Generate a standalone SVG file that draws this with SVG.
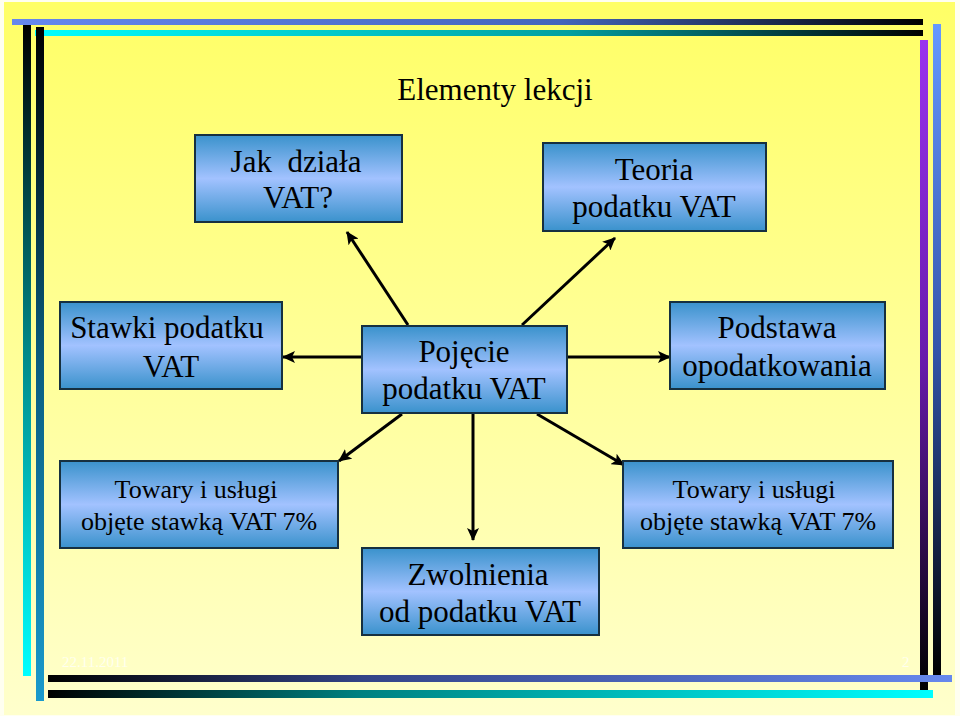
<svg xmlns="http://www.w3.org/2000/svg" width="960" height="716" viewBox="0 0 960 716">
<defs>
<linearGradient id="bg" x1="0" y1="0" x2="0" y2="1">
<stop offset="0" stop-color="#FFFF66"/>
<stop offset="1" stop-color="#FFFFCC"/>
</linearGradient>
<linearGradient id="box" x1="0" y1="0" x2="0" y2="1">
<stop offset="0" stop-color="#3A92CC"/>
<stop offset="0.5" stop-color="#A2C2FF"/>
<stop offset="1" stop-color="#3A92CC"/>
</linearGradient>
<linearGradient id="hTop1" x1="0" y1="0" x2="1" y2="0">
<stop offset="0" stop-color="#6688EE"/>
<stop offset="0.6" stop-color="#4466BB"/>
<stop offset="1" stop-color="#000000"/>
</linearGradient>
<linearGradient id="hTop2" x1="0" y1="0" x2="1" y2="0">
<stop offset="0" stop-color="#00FFFF"/>
<stop offset="0.6" stop-color="#00A0A0"/>
<stop offset="1" stop-color="#000000"/>
</linearGradient>
<linearGradient id="hBot1" x1="0" y1="0" x2="1" y2="0">
<stop offset="0" stop-color="#000000"/>
<stop offset="0.35" stop-color="#334488"/>
<stop offset="1" stop-color="#6688EE"/>
</linearGradient>
<linearGradient id="hBot2" x1="0" y1="0" x2="1" y2="0">
<stop offset="0" stop-color="#000000"/>
<stop offset="0.35" stop-color="#008080"/>
<stop offset="1" stop-color="#00FFFF"/>
</linearGradient>
<linearGradient id="vL1" x1="0" y1="0" x2="0" y2="1">
<stop offset="0" stop-color="#000000"/>
<stop offset="0.5" stop-color="#008888"/>
<stop offset="1" stop-color="#00FFFF"/>
</linearGradient>
<linearGradient id="vL2" x1="0" y1="0" x2="0" y2="1">
<stop offset="0" stop-color="#000000"/>
<stop offset="0.5" stop-color="#0A5E80"/>
<stop offset="1" stop-color="#1A9ACC"/>
</linearGradient>
<linearGradient id="vR1" x1="0" y1="0" x2="0" y2="1">
<stop offset="0" stop-color="#9933EE"/>
<stop offset="0.5" stop-color="#661AAA"/>
<stop offset="1" stop-color="#000000"/>
</linearGradient>
<linearGradient id="vR2" x1="0" y1="0" x2="0" y2="1">
<stop offset="0" stop-color="#6699FF"/>
<stop offset="0.5" stop-color="#3355AA"/>
<stop offset="1" stop-color="#000000"/>
</linearGradient>
<marker id="arr" markerUnits="userSpaceOnUse" markerWidth="14" markerHeight="12" refX="12" refY="6" orient="auto">
<path d="M0,0 L13,6 L0,12 L3,6 Z" fill="#000"/>
</marker>
</defs>
<style>
.node rect{fill:url(#box);stroke:#163040;stroke-width:2}
.node text{font-family:"Liberation Serif","Times New Roman",serif;fill:#000;text-anchor:middle}
.big{font-size:31px}
.small{font-size:26px}
#connectors line{stroke:#000;stroke-width:3;marker-end:url(#arr)}
</style>
<rect x="0" y="0" width="960" height="716" fill="#FFFFF0"/>
<rect x="4" y="2" width="951" height="713" fill="url(#bg)"/>
<g id="decor">
<rect x="12" y="19" width="911" height="6" fill="url(#hTop1)"/>
<rect x="35" y="30" width="888" height="6" fill="url(#hTop2)"/>
<rect x="23" y="25" width="8" height="651" fill="url(#vL1)"/>
<rect x="36" y="27" width="8" height="674" fill="url(#vL2)"/>
<rect x="920" y="40" width="8" height="650" fill="url(#vR1)"/>
<rect x="933" y="24" width="8" height="651" fill="url(#vR2)"/>
<rect x="48" y="675" width="904" height="7" fill="url(#hBot1)"/>
<rect x="48" y="690" width="885" height="8" fill="url(#hBot2)"/>
</g>
<text x="495" y="100" font-family="Liberation Serif, serif" font-size="31" text-anchor="middle" fill="#000">Elementy lekcji</text>
<g id="connectors">
<line x1="408" y1="325" x2="347" y2="232"/>
<line x1="522" y1="325" x2="615" y2="238"/>
<line x1="362" y1="357" x2="283" y2="357"/>
<line x1="567" y1="357" x2="670" y2="357"/>
<line x1="402" y1="414" x2="339" y2="461"/>
<line x1="473" y1="414" x2="473" y2="540"/>
<line x1="537" y1="414" x2="624" y2="465"/>
</g>
<g id="n-jak" class="node">
<rect x="195" y="135" width="207" height="87"/>
<text class="big" x="296" y="172">Jak&#160; działa</text>
<text class="big" x="298" y="208">VAT?</text>
</g>
<g id="n-teoria" class="node">
<rect x="543" y="143" width="223" height="88"/>
<text class="big" x="654" y="180">Teoria</text>
<text class="big" x="654" y="217">podatku VAT</text>
</g>
<g id="n-stawki" class="node">
<rect x="60" y="302" width="222" height="87"/>
<text class="big" x="167" y="338">Stawki podatku</text>
<text class="big" x="171" y="377">VAT</text>
</g>
<g id="n-pojecie" class="node">
<rect x="362" y="326" width="205" height="87"/>
<text class="big" x="464" y="362">Pojęcie</text>
<text class="big" x="464" y="399">podatku VAT</text>
</g>
<g id="n-podstawa" class="node">
<rect x="670" y="302" width="215" height="87"/>
<text class="big" x="777" y="338">Podstawa</text>
<text class="big" x="777" y="376">opodatkowania</text>
</g>
<g id="n-towary-l" class="node">
<rect x="60" y="461" width="278" height="87"/>
<text class="small" x="196" y="498">Towary i usługi</text>
<text class="small" x="199" y="530">objęte stawką VAT 7%</text>
</g>
<g id="n-towary-r" class="node">
<rect x="623" y="461" width="270" height="87"/>
<text class="small" x="754" y="498">Towary i usługi</text>
<text class="small" x="758" y="530">objęte stawką VAT 7%</text>
</g>
<g id="n-zwolnienia" class="node">
<rect x="362" y="548" width="237" height="87"/>
<text class="big" x="478" y="585">Zwolnienia</text>
<text class="big" x="480" y="622">od podatku VAT</text>
</g>
<text x="62" y="667" font-family="Liberation Serif, serif" font-size="15" fill="#FFFFEE">22.11.2011</text>
<text x="902" y="667" font-family="Liberation Serif, serif" font-size="15" fill="#FFFFEE">2</text>
</svg>
